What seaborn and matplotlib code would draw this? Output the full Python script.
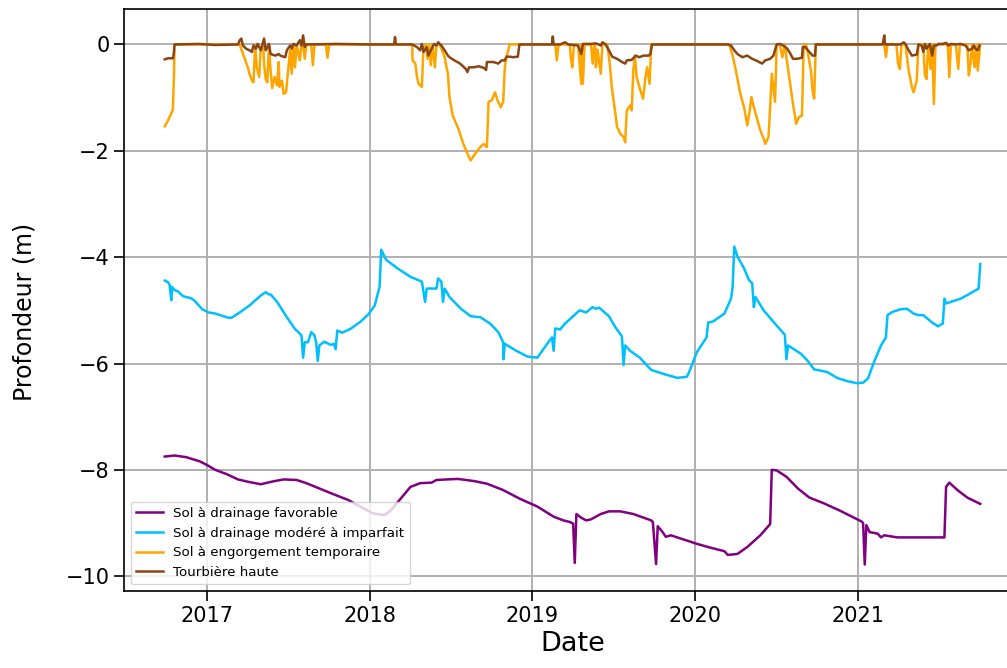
import numpy as np
import pandas as pd
import matplotlib
matplotlib.use("Agg")
import matplotlib.pyplot as plt
import matplotlib.dates as mdates
import seaborn as sns

# ---- data (decimal year, depth in m) ----
labels = ["Sol à drainage favorable", "Sol à drainage modéré à imparfait",
          "Sol à engorgement temporaire", "Tourbière haute"]
colors = ["purple", "deepskyblue", "orange", "saddlebrown"]
tick_years = [2017, 2018, 2019, 2020, 2021]
ytick_values = [0, -2, -4, -6, -8, -10]

favorable = [(2016.74, -7.75), (2016.80, -7.73), (2016.87, -7.76), (2016.955, -7.84), (2017.0, -7.91),
             (2017.05, -8.0), (2017.12, -8.08), (2017.19, -8.18), (2017.26, -8.23), (2017.33, -8.27),
             (2017.40, -8.22), (2017.47, -8.18), (2017.55, -8.19), (2017.61, -8.25), (2017.69, -8.35),
             (2017.77, -8.45), (2017.87, -8.57), (2017.94, -8.69), (2018.02, -8.82), (2018.09, -8.85),
             (2018.13, -8.76), (2018.19, -8.54), (2018.25, -8.32), (2018.31, -8.25), (2018.38, -8.24),
             (2018.41, -8.19), (2018.54, -8.17), (2018.64, -8.21), (2018.72, -8.26), (2018.82, -8.38),
             (2018.92, -8.54), (2019.03, -8.69), (2019.13, -8.88), (2019.19, -8.95), (2019.23, -8.98),
             (2019.25, -9.01), (2019.26, -9.75), (2019.27, -8.83), (2019.30, -8.90), (2019.33, -8.95),
             (2019.36, -8.93), (2019.42, -8.83), (2019.47, -8.78), (2019.54, -8.78), (2019.62, -8.83),
             (2019.73, -8.95), (2019.74, -8.98), (2019.76, -9.77), (2019.77, -9.06), (2019.80, -9.17),
             (2019.82, -9.26), (2019.85, -9.23), (2019.93, -9.31), (2020.01, -9.39), (2020.09, -9.46),
             (2020.18, -9.53), (2020.20, -9.60), (2020.26, -9.58), (2020.32, -9.45), (2020.40, -9.23),
             (2020.46, -9.02), (2020.47, -8.0), (2020.50, -8.01), (2020.56, -8.13), (2020.63, -8.35),
             (2020.70, -8.52), (2020.79, -8.63), (2020.89, -8.77), (2021.02, -8.97), (2021.03, -9.0),
             (2021.04, -9.78), (2021.05, -9.04), (2021.07, -9.17), (2021.12, -9.20), (2021.14, -9.27),
             (2021.16, -9.23), (2021.24, -9.27), (2021.53, -9.27), (2021.54, -8.32), (2021.56, -8.24),
             (2021.61, -8.38), (2021.67, -8.52), (2021.75, -8.64)]

modere = [(2016.74, -4.44), (2016.76, -4.47), (2016.77, -4.52), (2016.78, -4.81), (2016.785, -4.56),
          (2016.80, -4.62), (2016.82, -4.64), (2016.85, -4.73), (2016.87, -4.75), (2016.90, -4.77),
          (2016.92, -4.81), (2016.97, -4.98), (2017.01, -5.04), (2017.05, -5.06), (2017.08, -5.09),
          (2017.13, -5.14), (2017.15, -5.14), (2017.20, -5.04), (2017.26, -4.91), (2017.33, -4.72),
          (2017.36, -4.66), (2017.38, -4.70), (2017.39, -4.70), (2017.43, -4.84), (2017.49, -5.13),
          (2017.54, -5.35), (2017.58, -5.47), (2017.59, -5.89), (2017.60, -5.60), (2017.62, -5.60),
          (2017.64, -5.41), (2017.66, -5.47), (2017.67, -5.60), (2017.68, -5.95), (2017.69, -5.66),
          (2017.72, -5.59), (2017.76, -5.65), (2017.78, -5.63), (2017.79, -5.73), (2017.80, -5.38),
          (2017.83, -5.42), (2017.88, -5.35), (2017.94, -5.22), (2017.99, -5.08), (2018.03, -4.91),
          (2018.06, -4.56), (2018.07, -3.86), (2018.10, -4.05), (2018.17, -4.21), (2018.25, -4.37),
          (2018.32, -4.46), (2018.34, -4.84), (2018.35, -4.59), (2018.41, -4.59), (2018.42, -4.40),
          (2018.44, -4.46), (2018.45, -4.84), (2018.46, -4.59), (2018.49, -4.75), (2018.56, -4.97),
          (2018.62, -5.11), (2018.68, -5.13), (2018.74, -5.25), (2018.79, -5.41), (2018.82, -5.60),
          (2018.822, -5.92), (2018.83, -5.63), (2018.90, -5.76), (2018.97, -5.87), (2019.03, -5.89),
          (2019.06, -5.76), (2019.10, -5.59), (2019.12, -5.51), (2019.13, -5.76), (2019.14, -5.34),
          (2019.17, -5.36), (2019.20, -5.25), (2019.29, -5.0), (2019.33, -5.04), (2019.37, -4.94),
          (2019.39, -4.97), (2019.41, -4.95), (2019.47, -5.11), (2019.51, -5.32), (2019.55, -5.49),
          (2019.56, -6.03), (2019.57, -5.66), (2019.60, -5.76), (2019.66, -5.89), (2019.73, -6.12),
          (2019.81, -6.20), (2019.89, -6.27), (2019.95, -6.25), (2019.97, -6.11), (2020.01, -5.79),
          (2020.07, -5.51), (2020.08, -5.23), (2020.11, -5.21), (2020.18, -5.06), (2020.22, -4.78),
          (2020.23, -4.56), (2020.24, -3.80), (2020.26, -3.99), (2020.30, -4.21), (2020.33, -4.43),
          (2020.35, -4.49), (2020.36, -4.94), (2020.37, -4.75), (2020.42, -5.0), (2020.49, -5.25),
          (2020.55, -5.46), (2020.56, -5.92), (2020.57, -5.66), (2020.61, -5.74), (2020.65, -5.82),
          (2020.69, -5.95), (2020.73, -6.11), (2020.81, -6.16), (2020.87, -6.27), (2020.93, -6.33),
          (2020.99, -6.37), (2021.03, -6.36), (2021.06, -6.28), (2021.10, -5.95), (2021.14, -5.66),
          (2021.17, -5.51), (2021.18, -5.09), (2021.21, -5.03), (2021.26, -4.98), (2021.30, -4.97),
          (2021.34, -5.06), (2021.37, -5.09), (2021.40, -5.09), (2021.45, -5.22), (2021.49, -5.30),
          (2021.52, -5.25), (2021.53, -4.78), (2021.54, -4.87), (2021.63, -4.78), (2021.69, -4.68),
          (2021.74, -4.59), (2021.75, -4.13)]

engorgement = [(2016.74, -1.54), (2016.76, -1.43), (2016.78, -1.30), (2016.79, -1.22), (2016.797, -0.55),
               (2016.80, 0.0), (2017.20, 0.0), (2017.22, -0.18), (2017.235, -0.30), (2017.25, -0.43),
               (2017.26, -0.55), (2017.275, -0.68), (2017.285, -0.71), (2017.295, -0.02), (2017.305, -0.43),
               (2017.32, -0.61), (2017.33, -0.05), (2017.345, -0.05), (2017.35, -0.36), (2017.36, -0.65),
               (2017.37, -0.71), (2017.38, 0.0), (2017.39, -0.49), (2017.40, -0.82), (2017.415, -0.61),
               (2017.43, -0.77), (2017.44, -0.33), (2017.445, -0.80), (2017.46, -0.68), (2017.47, -0.93),
               (2017.485, -0.90), (2017.50, -0.43), (2017.51, -0.11), (2017.52, -0.55), (2017.53, 0.0),
               (2017.54, -0.43), (2017.55, 0.0), (2017.57, -0.30), (2017.58, 0.0), (2017.59, 0.0),
               (2017.60, -0.27), (2017.61, 0.0), (2017.64, 0.0), (2017.65, -0.39), (2017.66, 0.0),
               (2017.73, 0.0), (2017.74, -0.25), (2017.75, 0.0), (2018.26, 0.0), (2018.263, -0.30),
               (2018.28, -0.36), (2018.29, -0.61), (2018.30, -0.74), (2018.32, -0.80), (2018.33, -0.05),
               (2018.345, 0.0), (2018.355, -0.27), (2018.365, 0.0), (2018.375, -0.39), (2018.385, 0.0),
               (2018.40, -0.43), (2018.41, 0.0), (2018.43, 0.0), (2018.46, -0.24), (2018.48, -0.55),
               (2018.49, -0.99), (2018.51, -1.34), (2018.545, -1.59), (2018.575, -1.87), (2018.61, -2.12),
               (2018.62, -2.18), (2018.64, -2.09), (2018.67, -1.96), (2018.70, -1.87), (2018.72, -1.93),
               (2018.73, -1.08), (2018.75, -1.05), (2018.77, -0.90), (2018.785, -1.05), (2018.805, -1.18),
               (2018.82, -1.08), (2018.83, -0.43), (2018.84, -0.24), (2018.86, 0.0), (2019.14, 0.0),
               (2019.15, -0.30), (2019.16, 0.0), (2019.23, 0.0), (2019.235, -0.24), (2019.245, -0.43),
               (2019.255, 0.0), (2019.28, 0.0), (2019.29, -0.36), (2019.30, -0.74), (2019.303, 0.0),
               (2019.31, -0.74), (2019.32, 0.0), (2019.36, 0.0), (2019.37, -0.36), (2019.38, 0.0),
               (2019.385, 0.0), (2019.39, -0.43), (2019.40, -0.10), (2019.42, -0.55), (2019.43, 0.0),
               (2019.46, 0.0), (2019.475, -0.36), (2019.49, -0.87), (2019.51, -1.30), (2019.52, -1.55),
               (2019.54, -1.68), (2019.56, -1.74), (2019.57, -1.84), (2019.58, -1.24), (2019.60, -1.15),
               (2019.61, -1.24), (2019.62, -0.49), (2019.63, -0.21), (2019.64, -0.61), (2019.66, -0.83),
               (2019.68, -1.02), (2019.695, -0.61), (2019.705, -0.43), (2019.72, -0.74), (2019.73, 0.0),
               (2020.21, 0.0), (2020.23, -0.21), (2020.25, -0.49), (2020.275, -0.90), (2020.30, -1.18),
               (2020.32, -1.52), (2020.335, -1.24), (2020.345, -0.99), (2020.36, -1.18), (2020.38, -1.40),
               (2020.40, -1.62), (2020.42, -1.77), (2020.43, -1.87), (2020.45, -1.74), (2020.46, -1.18),
               (2020.47, -0.55), (2020.49, -1.08), (2020.50, 0.0), (2020.52, 0.0), (2020.535, -0.24),
               (2020.55, 0.0), (2020.565, -0.36), (2020.58, -0.68), (2020.60, -1.12), (2020.62, -1.49),
               (2020.635, -1.37), (2020.655, -1.34), (2020.666, 0.0), (2020.68, 0.0), (2020.69, -0.14),
               (2020.71, -0.49), (2020.72, -0.87), (2020.73, -1.02), (2020.74, 0.0), (2021.16, 0.0),
               (2021.17, -0.24), (2021.18, 0.0), (2021.235, 0.0), (2021.245, -0.36), (2021.256, -0.46),
               (2021.266, 0.0), (2021.29, 0.0), (2021.31, -0.49), (2021.33, -0.80), (2021.34, -0.90),
               (2021.36, -0.68), (2021.37, 0.0), (2021.40, 0.0), (2021.41, -0.58), (2021.42, -0.65),
               (2021.43, 0.0), (2021.445, -0.46), (2021.455, 0.0), (2021.465, -1.12), (2021.475, 0.0),
               (2021.55, 0.0), (2021.56, -0.61), (2021.57, 0.0), (2021.60, 0.0), (2021.615, -0.46),
               (2021.625, 0.0), (2021.67, 0.0), (2021.68, -0.58), (2021.69, -0.36), (2021.70, 0.0),
               (2021.715, -0.43), (2021.725, 0.0), (2021.735, -0.49), (2021.75, 0.0)]

tourbiere = [(2016.74, -0.28), (2016.76, -0.26), (2016.79, -0.26), (2016.795, -0.19), (2016.80, 0.0),
             (2016.95, 0.01), (2017.05, -0.01), (2017.19, 0.0), (2017.20, 0.08), (2017.21, 0.11),
             (2017.22, -0.02), (2017.24, -0.08), (2017.26, -0.11), (2017.275, -0.14), (2017.285, -0.02),
             (2017.30, -0.08), (2017.31, 0.01), (2017.33, -0.11), (2017.35, 0.11), (2017.36, -0.11),
             (2017.38, 0.01), (2017.39, -0.18), (2017.42, -0.21), (2017.44, -0.18), (2017.45, -0.21),
             (2017.48, -0.24), (2017.49, -0.11), (2017.51, -0.02), (2017.52, -0.08), (2017.53, 0.01),
             (2017.55, -0.02), (2017.57, 0.08), (2017.58, -0.02), (2017.59, 0.17), (2017.60, -0.05),
             (2017.61, 0.0), (2017.80, 0.01), (2018.0, 0.0), (2018.15, 0.0), (2018.155, 0.14),
             (2018.16, 0.0), (2018.26, 0.0), (2018.29, -0.05), (2018.31, -0.11), (2018.32, 0.01),
             (2018.33, -0.14), (2018.35, -0.05), (2018.36, -0.21), (2018.38, -0.08), (2018.395, 0.01),
             (2018.41, -0.02), (2018.42, 0.04), (2018.44, -0.02), (2018.46, -0.11), (2018.48, -0.21),
             (2018.49, -0.24), (2018.52, -0.30), (2018.555, -0.36), (2018.59, -0.46), (2018.60, -0.52),
             (2018.61, -0.43), (2018.64, -0.43), (2018.67, -0.41), (2018.70, -0.44), (2018.715, -0.48),
             (2018.72, -0.33), (2018.76, -0.33), (2018.79, -0.36), (2018.81, -0.30), (2018.83, -0.30),
             (2018.84, -0.23), (2018.86, -0.23), (2018.88, -0.24), (2018.91, -0.23), (2018.92, 0.0),
             (2019.12, 0.0), (2019.125, 0.15), (2019.13, 0.0), (2019.17, 0.0), (2019.20, 0.04),
             (2019.22, 0.0), (2019.28, -0.02), (2019.30, -0.18), (2019.31, 0.01), (2019.36, 0.01),
             (2019.39, 0.02), (2019.42, -0.02), (2019.43, 0.04), (2019.45, 0.0), (2019.47, -0.11),
             (2019.49, -0.23), (2019.52, -0.27), (2019.55, -0.33), (2019.57, -0.36), (2019.58, -0.30),
             (2019.61, -0.29), (2019.635, -0.21), (2019.655, -0.24), (2019.685, -0.21), (2019.715, -0.21),
             (2019.725, -0.18), (2019.735, 0.0), (2020.20, 0.0), (2020.22, -0.02), (2020.24, -0.11),
             (2020.26, -0.18), (2020.29, -0.24), (2020.32, -0.21), (2020.35, -0.27), (2020.38, -0.31),
             (2020.41, -0.36), (2020.43, -0.30), (2020.46, -0.27), (2020.48, -0.21), (2020.50, 0.0),
             (2020.52, 0.01), (2020.54, -0.02), (2020.565, -0.08), (2020.585, -0.18), (2020.60, -0.27),
             (2020.625, -0.27), (2020.655, -0.25), (2020.66, -0.05), (2020.676, -0.05), (2020.70, -0.14),
             (2020.72, -0.21), (2020.735, -0.21), (2020.74, 0.0), (2021.15, 0.0), (2021.16, 0.17),
             (2021.165, 0.0), (2021.26, 0.0), (2021.28, 0.04), (2021.29, 0.01), (2021.31, -0.11),
             (2021.33, -0.21), (2021.36, -0.19), (2021.37, 0.0), (2021.39, -0.02), (2021.40, -0.14),
             (2021.41, 0.01), (2021.42, -0.08), (2021.44, 0.01), (2021.455, -0.21), (2021.465, -0.02),
             (2021.48, -0.02), (2021.495, 0.01), (2021.52, 0.01), (2021.54, 0.03), (2021.555, -0.02),
             (2021.57, 0.01), (2021.60, 0.0), (2021.63, 0.01), (2021.66, -0.02), (2021.68, -0.11),
             (2021.70, -0.08), (2021.71, -0.02), (2021.72, -0.08), (2021.735, -0.11), (2021.745, -0.02)]

series = [favorable, modere, engorgement, tourbiere]


def to_date(y):
    yr = int(y)
    start = pd.Timestamp(yr, 1, 1)
    return start + (pd.Timestamp(yr + 1, 1, 1) - start) * (y - yr)


frames = []
for lab, pts in zip(labels, series):
    frames.append(pd.DataFrame({
        "Date": [to_date(p[0]) for p in pts],
        "Profondeur": [p[1] for p in pts],
        "Série": lab,
    }))
df = pd.concat(frames, ignore_index=True)

plt.rcParams["font.family"] = ["DejaVu Sans"]
fig = plt.figure(figsize=(10.07, 6.68), dpi=100)
ax = fig.add_axes([0.1231, 0.1153, 0.8908, 0.8713])

for lab, col in zip(labels, colors):
    sub = df[df["Série"] == lab]
    sns.lineplot(data=sub, x="Date", y="Profondeur", color=col, label=lab,
                 estimator=None, sort=False, linewidth=1.8, ax=ax)

ax.set_xticks([pd.Timestamp(y, 1, 1) for y in tick_years])
ax.xaxis.set_major_formatter(mdates.DateFormatter("%Y"))
ax.set_yticks(ytick_values)
ax.grid(True, color="#b0b0b0", linewidth=1.4)
ax.set_axisbelow(True)
ax.tick_params(labelsize=15, length=7, width=1.2)
for sp in ax.spines.values():
    sp.set_linewidth(1.2)
ax.set_xlabel("Date", fontsize=19.5)
ax.set_ylabel("Profondeur (m)", fontsize=17)
ax.yaxis.set_label_coords(-0.097, 0.48)
ax.legend(loc="lower left", fontsize=9.6)

fig.savefig("out.png", dpi=100)
